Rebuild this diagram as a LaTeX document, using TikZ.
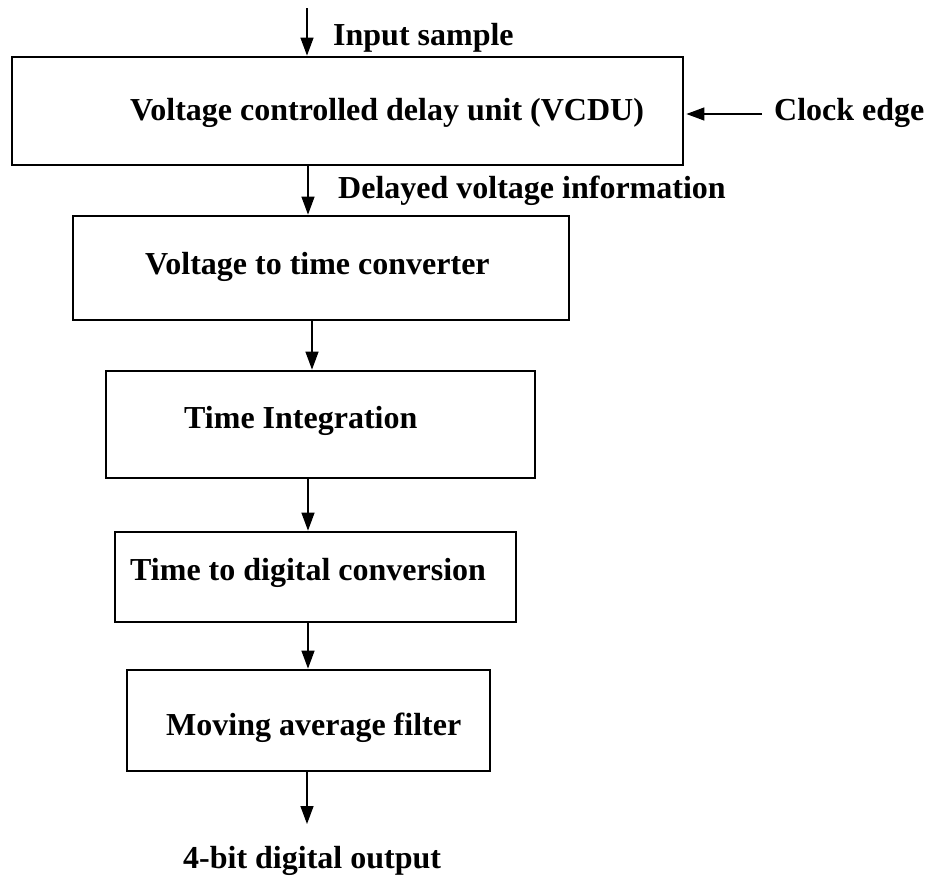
\documentclass[tikz,border=0pt]{standalone}
\usepackage{fontspec}
\setmainfont{Liberation Serif}
\usetikzlibrary{arrows.meta}
\begin{document}
\begin{tikzpicture}[x=1pt,y=-1pt,
  blockbox/.style={draw=black,line width=2.8pt,rectangle,inner sep=0pt},
  lbl/.style={anchor=base west,inner sep=0pt,font=\fontsize{32}{38}\selectfont\bfseries},
  arr/.style={line width=1.4pt,-{Triangle[length=18pt,width=13pt]}}]
\useasboundingbox (0,0) rectangle (931,878);

% processing stages (empty frames; labels placed separately)
\node[blockbox,minimum width=671pt,minimum height=108pt] (vcdu) at (347.5,111) {};
\node[blockbox,minimum width=496pt,minimum height=104pt] (vtc)  at (321,268) {};
\node[blockbox,minimum width=429pt,minimum height=107pt] (tint) at (320.5,424.5) {};
\node[blockbox,minimum width=401pt,minimum height=90pt]  (tdc)  at (315.5,577) {};
\node[blockbox,minimum width=363pt,minimum height=101pt] (maf)  at (308.5,720.5) {};

% labels
\node[lbl] (tvcdu) at (130,120) {Voltage controlled delay unit (VCDU)};
\node[lbl] (tvtc)  at (145,274) {Voltage to time converter};
\node[lbl] (ttint) at (184,428) {Time Integration};
\node[lbl] (ttdc)  at (130,580) {Time to digital conversion};
\node[lbl] (tmaf)  at (166,735) {Moving average filter};

\node[lbl] (tin)  at (333,45)  {Input sample};
\node[lbl] (tclk) at (774,120) {Clock edge};
\node[lbl] (tdel) at (338,198) {Delayed voltage information};
\node[lbl] (tout) at (183,868) {4-bit digital output};

% free ends of the outer signals
\coordinate (in)  at (307,8);
\coordinate (clk) at (762,114);
\coordinate (out) at (307,824);

% connectors
\draw[arr] (in) -- (in |- vcdu.north);
\draw[arr,shorten >=2pt] (clk) -- (clk -| vcdu.east);
\draw[arr] (vcdu.south -| 308,0) -- (vtc.north -| 308,0);
\draw[arr] (vtc.south -| 312,0) -- (tint.north -| 312,0);
\draw[arr] (tint.south -| 308,0) -- (tdc.north -| 308,0);
\draw[arr] (tdc.south -| 308,0) -- (maf.north -| 308,0);
\draw[arr] (maf.south -| out) -- (out);
\end{tikzpicture}
\end{document}
